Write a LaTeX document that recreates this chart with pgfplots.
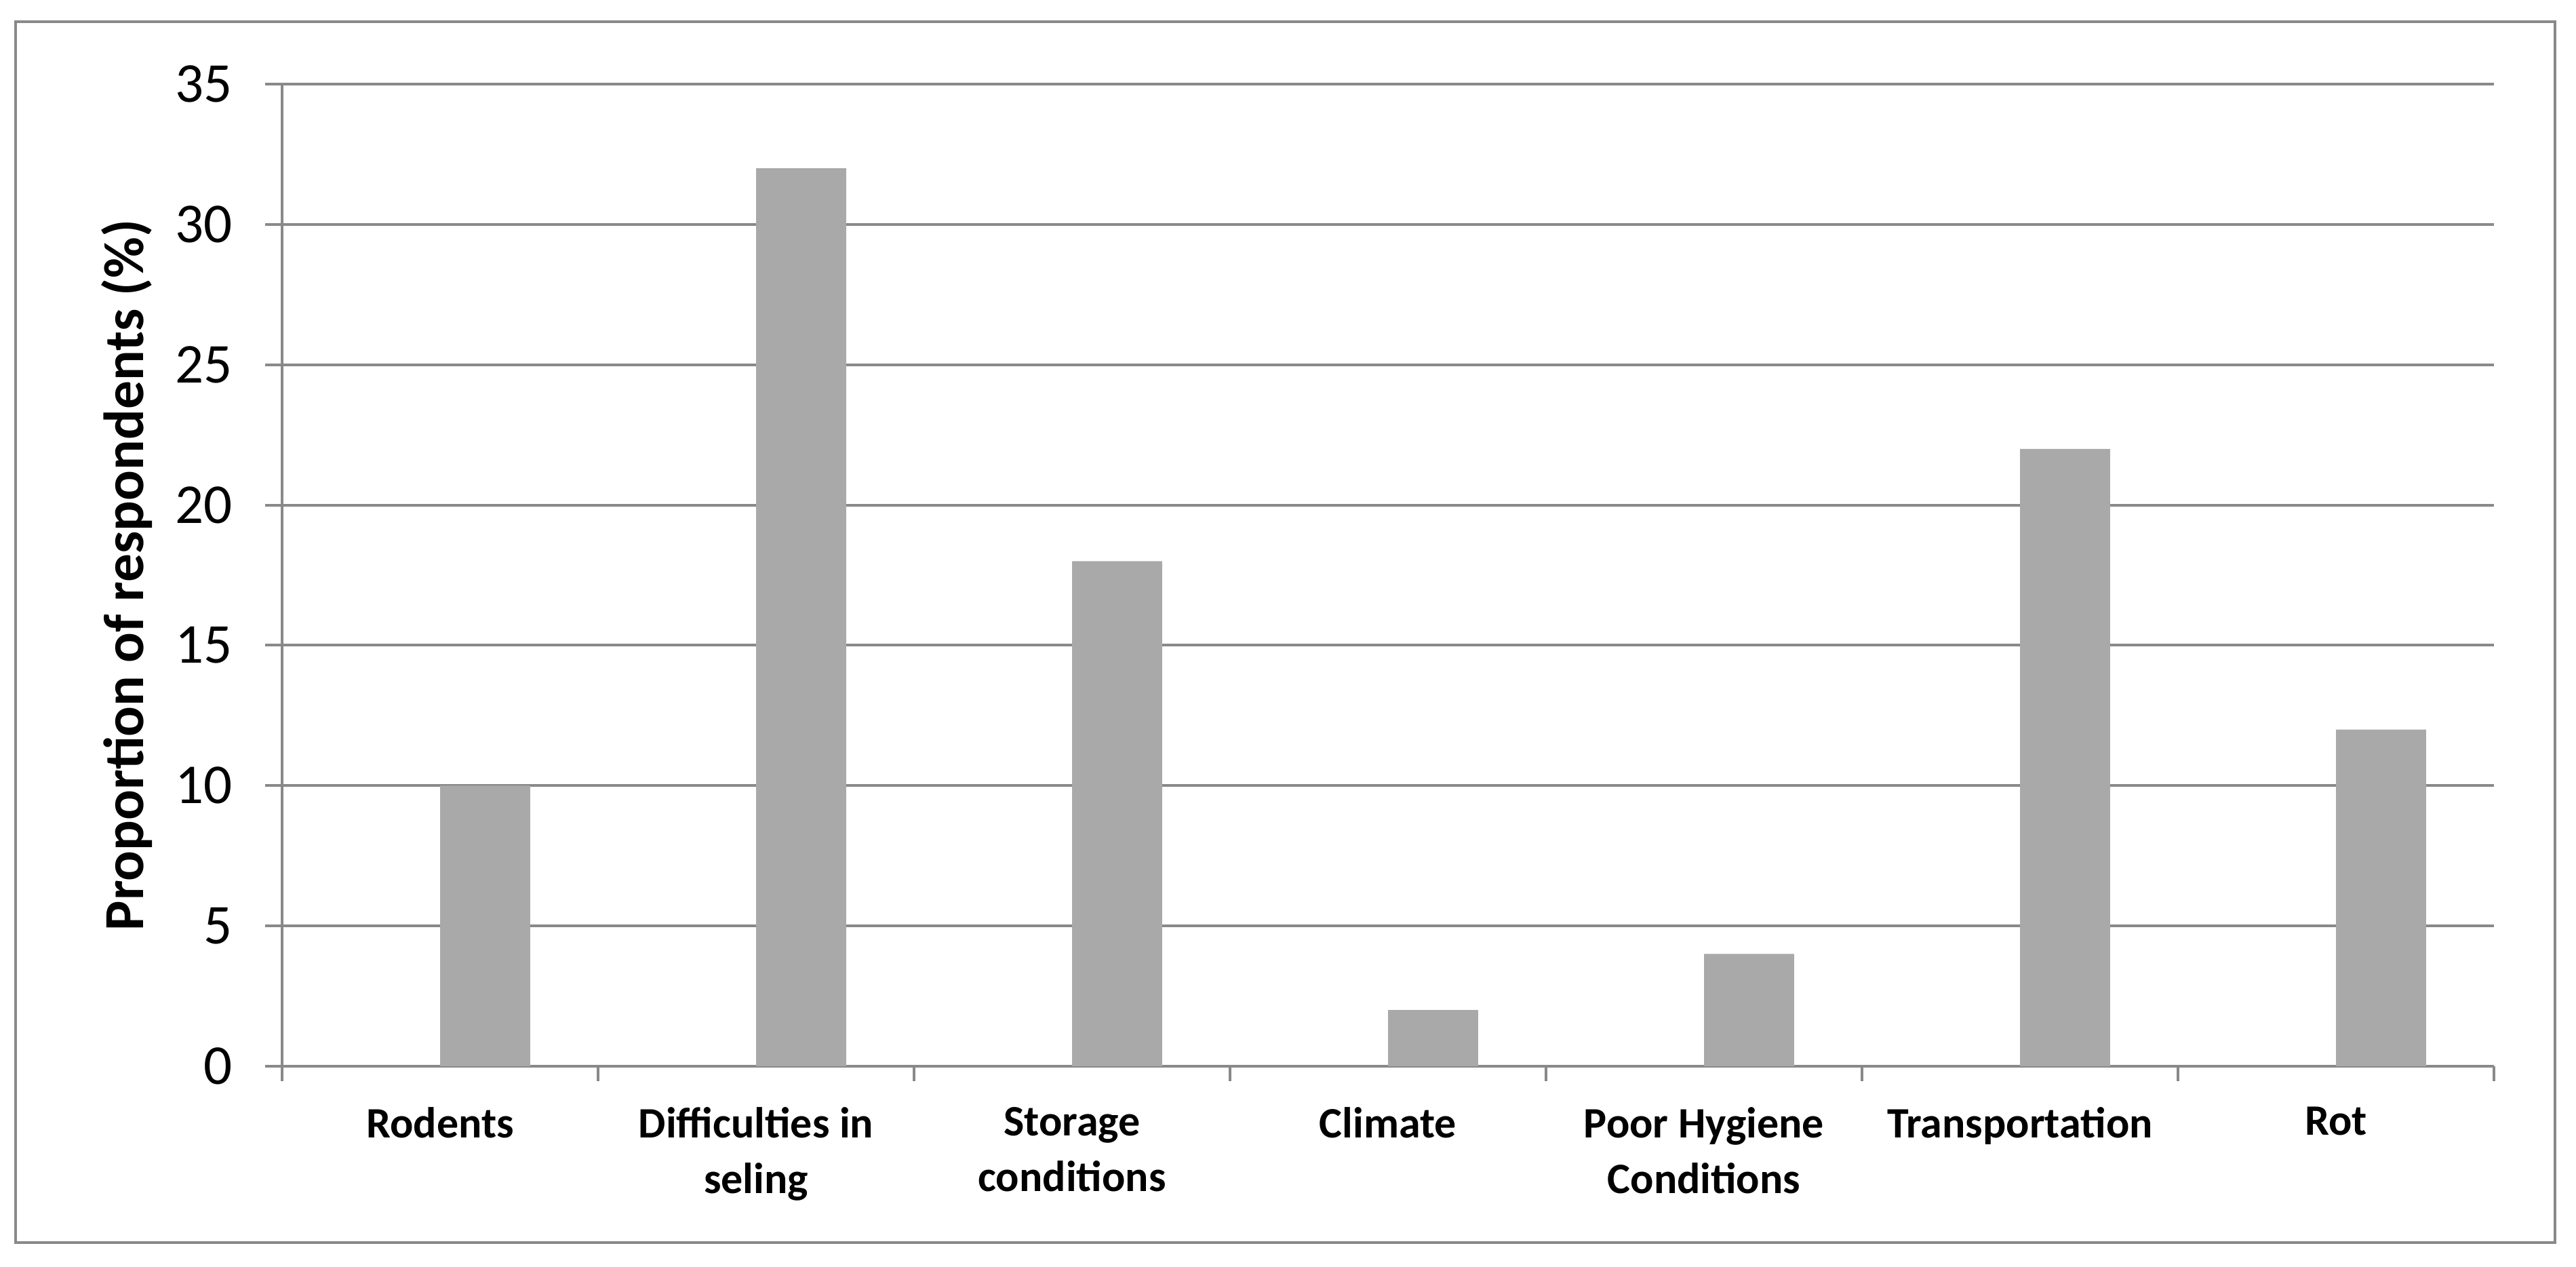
\documentclass[border=0pt]{standalone}
\usepackage{fontspec}
\setmainfont{Carlito}
\usepackage{pgfplots}
\pgfplotsset{compat=1.18}
\definecolor{gridgray}{RGB}{137,137,137}
\definecolor{bargray}{RGB}{169,169,169}
\begin{document}
\begin{tikzpicture}
\useasboundingbox (-41.6pt,-29.6pt) rectangle (338.3pt,157.2pt);
\begin{axis}[
  at={(0pt,0pt)}, anchor=south west,
  scale only axis, width=326.2pt, height=144.8pt,
  xmin=-0.5, xmax=6.5, ymin=0, ymax=35,
  axis x line*=bottom, axis y line*=left,
  axis line style={-, draw=gridgray, line width=0.45pt},
  ytick={0,5,...,35},
  ymajorgrids, grid style={draw=gridgray, line width=0.4pt},
  tick align=outside, major tick length=2.5pt, minor tick length=2.2pt,
  ytick style={draw=gridgray, line width=0.4pt},
  xtick={0,...,6},
  xticklabels={Rodents, Difficulties in\\seling, Storage\\conditions, Climate, Poor Hygiene\\Conditions, Transportation, Rot},
  major x tick style={draw=none},
  minor x tick style={draw=gridgray, line width=0.4pt},
  minor xtick={-0.5,0.5,...,6.5},
  /pgf/number format/assume math mode=true,
  yticklabel style={font=\fontsize{8.3}{10}\selectfont, xshift=-1.3pt},
  xticklabel style={font=\fontsize{6.4}{8.2}\selectfont\bfseries, align=center, anchor=north},
  ylabel={Proportion of respondents (\%)},
  ylabel style={font=\fontsize{8.35}{10}\selectfont\bfseries, at={(axis description cs:0,0.5)}, anchor=center, yshift=22.9pt},
  clip=false,
]
\addplot[ybar, bar width=0.285, fill=bargray, draw=none] coordinates {
  (0.1427,10) (1.1427,32) (2.1427,18) (3.1427,2) (4.1427,4) (5.1427,22) (6.1427,12)
};
\end{axis}
\draw[gridgray, line width=0.4pt] (-39.3pt,-26pt) rectangle (335.2pt,154pt);
\end{tikzpicture}
\end{document}
